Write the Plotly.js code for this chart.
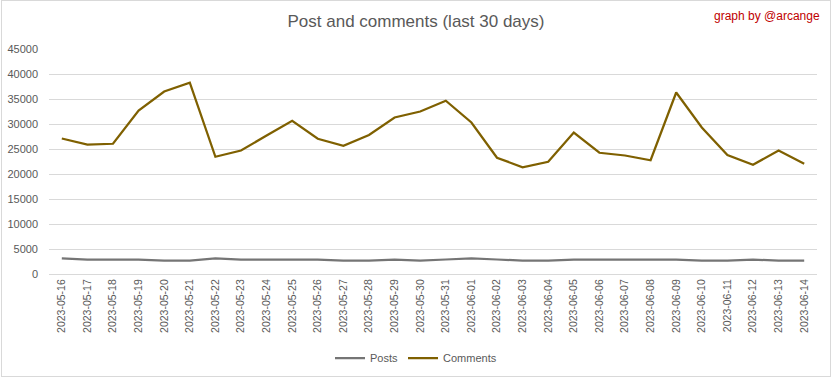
<!DOCTYPE html>
<html>
<head>
<meta charset="utf-8">
<script src="https://cdn.plot.ly/plotly-3.0.1.min.js"></script>
<style>
html,body{margin:0;padding:0;background:#fff;}
#wrap{position:relative;width:832px;height:378px;}
#chart{position:absolute;left:0;top:0;width:832px;height:378px;}
#frame{position:absolute;left:1px;top:0px;width:828px;height:375px;border:1px solid #d9d9d9;pointer-events:none;}
</style>
</head>
<body>
<div id="wrap"><div id="chart"></div><div id="frame"></div></div>
<script>
const dates = ["2023-05-16","2023-05-17","2023-05-18","2023-05-19","2023-05-20","2023-05-21","2023-05-22","2023-05-23","2023-05-24","2023-05-25","2023-05-26","2023-05-27","2023-05-28","2023-05-29","2023-05-30","2023-05-31","2023-06-01","2023-06-02","2023-06-03","2023-06-04","2023-06-05","2023-06-06","2023-06-07","2023-06-08","2023-06-09","2023-06-10","2023-06-11","2023-06-12","2023-06-13","2023-06-14"];
const posts = [3130,2880,2880,2880,2680,2680,3130,2880,2880,2880,2880,2680,2680,2880,2680,2900,3130,2900,2700,2700,2860,2860,2860,2860,2860,2700,2700,2860,2700,2700];
const comments = [27100,25900,26050,32700,36500,38250,23450,24700,27700,30650,27050,25650,27800,31300,32500,34650,30300,23250,21350,22450,28300,24250,23700,22750,36300,29300,23800,21850,24700,22050];
const yTicks = [0,5000,10000,15000,20000,25000,30000,35000,40000,45000];

const font = "'Liberation Sans', Arial, sans-serif";
const traces = [
  {x: dates, y: posts, name: "Posts", type: "scatter", mode: "lines",
   line: {color: "#757575", width: 2.25}},
  {x: dates, y: comments, name: "Comments", type: "scatter", mode: "lines",
   line: {color: "#7f6000", width: 2.25}}
];
const layout = {
  width: 832, height: 378,
  margin: {l: 49, r: 15, t: 49.3, b: 103.7, pad: 0},
  paper_bgcolor: "#ffffff", plot_bgcolor: "#ffffff",
  font: {family: font, color: "#595959", size: 11},
  title: {text: "Post and comments (last 30 days)", x: 0.5, xref: "container",
          y: 1 - 21/378, yref: "container", yanchor: "middle", xanchor: "center",
          font: {family: font, size: 17, color: "#595959"}},
  xaxis: {type: "category", range: [-0.5, 29.5], tickangle: -90,
          showgrid: false, zeroline: false, showline: true, linecolor: "#d9d9d9", linewidth: 1,
          ticks: "", tickfont: {size: 10.5, color: "#595959"}, automargin: false},
  yaxis: {range: [0, 45000], tickvals: yTicks, ticktext: yTicks.map(String),
          showgrid: true, gridcolor: "#d9d9d9", gridwidth: 1, zeroline: false,
          showline: false, ticks: "", ticklabelstandoff: 10,
          tickfont: {size: 11, color: "#595959"}, automargin: false},
  showlegend: true,
  legend: {orientation: "h", xref: "container", yref: "container", x: 0.5, xanchor: "center",
           y: 1 - 358/378, yanchor: "middle", font: {size: 11, color: "#595959"},
           itemwidth: 30, traceorder: "normal"},
  annotations: [{text: "graph by @arcange", xref: "paper", yref: "paper",
                 x: (822-49)/768, xanchor: "right", y: 1 + (49.3-16)/225, yanchor: "middle",
                 showarrow: false, font: {family: font, size: 12, color: "#c00000"}}]
};
Plotly.newPlot("chart", traces, layout, {displayModeBar: false, staticPlot: true});
</script>
</body>
</html>
